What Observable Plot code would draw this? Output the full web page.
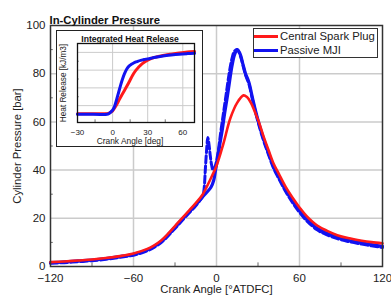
<!DOCTYPE html>
<html><head><meta charset="utf-8">
<script src="https://cdn.jsdelivr.net/npm/d3@7"></script>
<script src="https://cdn.jsdelivr.net/npm/@observablehq/plot@0.6"></script>
<style>
body{margin:0;background:#fff;font-family:"Liberation Sans",Arial,sans-serif;}
#wrap{position:relative;width:391px;height:300px;overflow:hidden;background:#fff}
#inset{position:absolute;left:56px;top:30px;width:147px;height:117px;box-sizing:border-box;border:1px solid #222;background:#fff}
#inset svg{overflow:visible}
#legend{position:absolute;left:253px;top:28px;width:125px;height:30px;box-sizing:border-box;border:1px solid #333;background:#fff;font-size:11.3px;color:#222}
.sw{position:absolute;left:0;width:24px;height:3px}
.lt{position:absolute;left:26px;height:14px;line-height:14px;white-space:nowrap}
</style></head><body>
<div id="wrap"><div id="main"></div><div id="inset"></div><div id="legend"></div></div>
<script>
const FONT = '"Liberation Sans", Arial, sans-serif';

// ---- text ----
const titleText = "In-Cylinder Pressure";
const xLabelText = "Crank Angle [°ATDFC]";
const yLabelText = "Cylinder Pressure [bar]";
const insetTitle = "Integrated Heat Release";
const insetXLabel = "Crank Angle [deg]";
const insetYLabel = "Heat Release [kJ/m3]";
const legendNames = ["Central Spark Plug", "Passive MJI"];
const legendColors = ["#ff1a1a", "#1212f0"];

// ---- ticks ----
const xTicks = [-120, -60, 0, 60, 120];
const xGrid = [-60, 0, 60];
const xMinor = [-90, -30, 30, 90];
const yTicks = [0, 20, 40, 60, 80, 100];
const yGrid = [20, 40, 60, 80];
const yMinor = [10, 30, 50, 70, 90];
const ihrXTicks = [-30, 0, 30, 60];
const ihrXGrid = [0, 30, 60];
const ihrYGrid = [200, 400, 600, 800];
const ihrXMinor = [-15, 15, 45];
const ihrYMinor = [100, 300, 500, 700];

// ---- main data: Central Spark Plug ----
const spAngle = [-120,-110,-100,-90,-80,-70,-60,-50,-45,-40,-35,-30,-25,-20,-15,-10,-5,0,5,10,15,19.5,22,25,28,30.6,34,37.8,41.4,45,50,55,60,65,72.8,80,87.3,95,105,112,120];
const spPressure = [1.8,2.1,2.5,2.9,3.5,4.3,5.4,7.3,8.8,10.8,13.6,16.8,20,23.1,26.3,29.9,35.5,41.8,51,61.5,68,71,70.3,67.8,63.8,60,54,48,42.5,38.5,33,28.5,24.5,21,17,14.8,13,11.8,10.7,10.1,9.6];

// ---- main data: Passive MJI (solid) ----
const mjiAngle = [-120,-110,-100,-90,-80,-70,-60,-50,-45,-40,-35,-30,-25,-20,-15,-10,-7,-4,-2,-0.7,1,2.5,4.1,6,7.7,9.5,11.3,13,15,17,19,21,23.4,26,28.2,30.6,34,37.8,41.4,45,50,55,60,65,72.8,80,87.3,95,105,112,120];
const mjiPressure = [1.6,1.9,2.3,2.7,3.3,4.1,5.1,6.9,8.4,10.4,13.2,16.3,19.5,22.6,25.7,28.9,30.8,32.9,35.8,40,45.5,51,56.4,64,70,77,83.5,87.8,90,88.3,84.2,80,76.5,70,64.7,59.5,53,46.8,41.3,37.2,31.8,27.2,23.2,19.8,15.8,13.7,12.1,10.9,9.8,9.1,8.4];

// ---- main data: Passive MJI (dashed) ----
const mjiDashAngle = [-120,-110,-100,-90,-80,-70,-60,-50,-45,-40,-35,-30,-25,-20,-15,-10,-9,-8,-7,-6.3,-5.5,-4.5,-3.5,-2.5,-1,1,3,5,7,9,11,13,15,17,19,21,23.4,26,28.2,30.6,34,37.8,41.4,45,50,55,60,65,72.8,80,87.3,95,105,112,120];
const mjiDashPressure = [1.3,1.6,2.0,2.4,3.0,3.8,4.7,6.5,8.0,9.9,12.7,15.8,19.0,22.1,25.2,29.2,32,41,49.5,53.5,51,46,42,40,41.5,47,55.5,63.5,71.5,79.5,85.8,89.3,90,87.8,83.8,79.4,75.8,69.3,64,58.8,52.3,46.1,40.6,36.5,31.1,26.5,22.5,19.1,15.2,13.1,11.6,10.4,9.3,8.6,7.9];

// ---- inset data: integrated heat release ----
const ihrAngle = [-30,-20,-10,-5,-3,-1,0,1,2,4,6,8,10,12,14,16,18,20,22,24,27,30,34,38,43,50,57,64,70];
const ihrMJI   = [103,102,101,102,112,135,150,171,205,295,390,480,555,610,645,665,680,692,702,710,720,727,738,749,760,771,780,786,790];
const ihrSpark = [108,108,108,110,116,130,140,160,180,225,275,322,368,415,464,515,562,600,630,657,688,712,737,750,765,780,793,803,811];

// ---- tables ----
const toRows = (xs, ys) => xs.map((x, i) => ({x, y: ys[i]}));
const spRows = toRows(spAngle, spPressure);
const mjiRows = toRows(mjiAngle, mjiPressure);
const mjiDashRows = toRows(mjiDashAngle, mjiDashPressure);
const ihrMJIRows = toRows(ihrAngle, ihrMJI);
const ihrSparkRows = toRows(ihrAngle, ihrSpark);

const main = Plot.plot({
  width: 391, height: 300,
  marginLeft: 50, marginRight: 9, marginTop: 25, marginBottom: 34,
  x: {domain: [-120, 120]},
  y: {domain: [0, 100]},
  style: {fontFamily: FONT, fontSize: "11.5px", color: "#222", background: "white"},
  marks: [
    Plot.gridX(xGrid, {stroke: "#cbcbcb", strokeOpacity: 1, strokeWidth: 1.5}),
    Plot.gridY(yGrid, {stroke: "#cbcbcb", strokeOpacity: 1, strokeWidth: 1.5}),
    Plot.ruleX(xMinor, {y1: 0, y2: 1.5, stroke: "#666"}),
    Plot.ruleY(yMinor, {x1: -120, x2: -118, stroke: "#666"}),
    Plot.axisX(xTicks, {tickSize: 0, tickPadding: 7, label: null, fill: "#222", fontSize: 11.5}),
    Plot.axisY(yTicks, {tickSize: 0, tickPadding: 5, label: null, fill: "#222", fontSize: 11.5}),
    Plot.line(mjiDashRows, {x: "x", y: "y", stroke: legendColors[1], strokeWidth: 3, strokeDasharray: "7,3", curve: "catmull-rom"}),
    Plot.line(mjiRows, {x: "x", y: "y", stroke: legendColors[1], strokeWidth: 3.2, curve: "catmull-rom"}),
    Plot.line(spRows, {x: "x", y: "y", stroke: legendColors[0], strokeWidth: 2.6, curve: "catmull-rom"}),
    Plot.frame({stroke: "#333", strokeWidth: 1.5}),
    Plot.text([titleText], {text: d => d, frameAnchor: "top-left", textAnchor: "start", dx: -1, dy: -9.5, fontWeight: "bold", fontSize: 11.3, fill: "#111"}),
    Plot.text([xLabelText], {text: d => d, frameAnchor: "bottom", textAnchor: "middle", dy: 26.5, fontSize: 11.3, fill: "#222"}),
    Plot.text([yLabelText], {text: d => d, frameAnchor: "left", textAnchor: "middle", dx: -33, rotate: -90, fontSize: 11.3, fill: "#222"})
  ]
});
document.getElementById("main").appendChild(main);

const inset = Plot.plot({
  width: 145, height: 115,
  marginLeft: 20, marginRight: 8, marginTop: 12, marginBottom: 24,
  x: {domain: [-30, 70]},
  y: {domain: [10, 900], axis: null},
  style: {fontFamily: FONT, fontSize: "8px", color: "#222", background: "white", overflow: "visible"},
  marks: [
    Plot.gridX(ihrXGrid, {stroke: "#cbcbcb", strokeOpacity: 1, strokeWidth: 1}),
    Plot.gridY(ihrYGrid, {stroke: "#cbcbcb", strokeOpacity: 1, strokeWidth: 1}),
    Plot.ruleX(ihrXMinor, {y1: 10, y2: 40, stroke: "#777"}),
    Plot.ruleY(ihrYMinor, {x1: -30, x2: -28.5, stroke: "#777"}),
    Plot.axisX(ihrXTicks, {tickSize: 0, tickPadding: 6.5, label: null, fill: "#222", fontSize: 8}),
    Plot.line(ihrSparkRows, {x: "x", y: "y", stroke: legendColors[0], strokeWidth: 3, curve: "catmull-rom"}),
    Plot.line(ihrMJIRows, {x: "x", y: "y", stroke: legendColors[1], strokeWidth: 3, curve: "catmull-rom"}),
    Plot.frame({stroke: "#111", strokeWidth: 1.3}),
    Plot.text([insetTitle], {text: d => d, frameAnchor: "top", textAnchor: "middle", dx: -6, dy: -8, fontWeight: "bold", fontSize: 8.6, fill: "#111"}),
    Plot.text([insetXLabel], {text: d => d, frameAnchor: "bottom", textAnchor: "middle", dx: -6, dy: 21.5, fontSize: 8.4, fill: "#222"}),
    Plot.text([insetYLabel], {text: d => d, frameAnchor: "left", textAnchor: "middle", dx: -14, rotate: -90, fontSize: 8.2, fill: "#222"})
  ]
});
document.getElementById("inset").appendChild(inset);

const legend = d3.select("#legend");
legendNames.forEach((name, i) => {
  const cy = 7 + 14 * i;
  legend.append("div").attr("class", "sw").style("top", (cy - 1.5) + "px").style("background", legendColors[i]);
  legend.append("div").attr("class", "lt").style("top", (cy - 7) + "px").text(name);
});
</script>
</body></html>
